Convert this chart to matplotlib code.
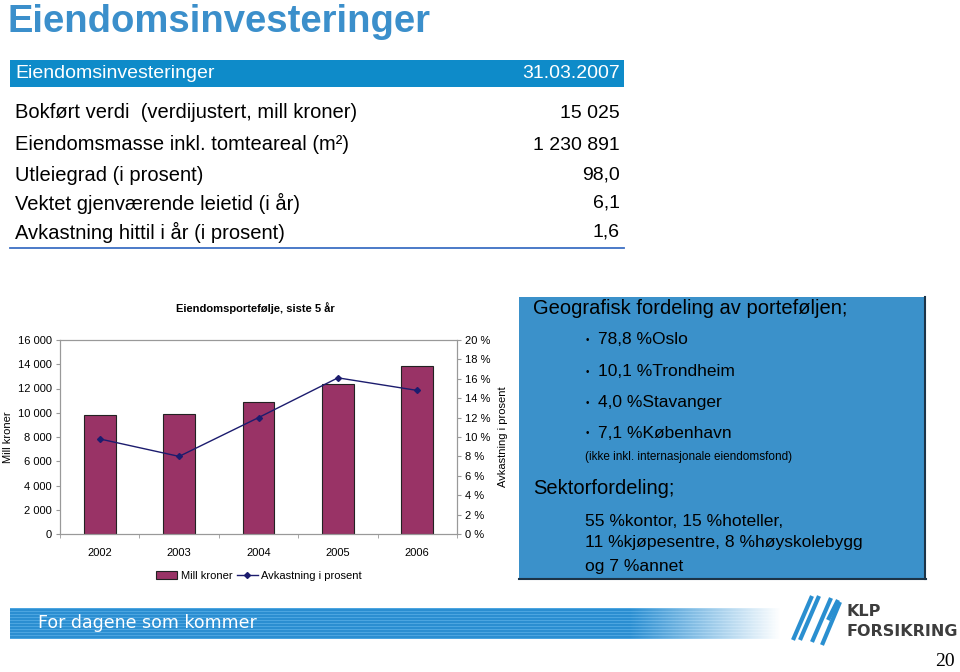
import numpy as np
import matplotlib
matplotlib.use("Agg")
import matplotlib.pyplot as plt
from matplotlib.patches import Rectangle
from matplotlib.lines import Line2D
from matplotlib.ticker import FuncFormatter, FixedLocator

# ---------------- data ----------------
years = ["2002", "2003", "2004", "2005", "2006"]
mill_kroner = [9800, 9900, 10900, 12400, 13850]
avkastning = [0.098, 0.080, 0.120, 0.161, 0.148]

table_header = ["Eiendomsinvesteringer", "31.03.2007"]
table_labels = ["Bokført verdi  (verdijustert, mill kroner)",
                "Eiendomsmasse inkl. tomteareal (m²)",
                "Utleiegrad (i prosent)",
                "Vektet gjenværende leietid (i år)",
                "Avkastning hittil i år (i prosent)"]
table_values = ["15 025", "1 230 891", "98,0", "6,1", "1,6"]

geo_items = ["78,8 %Oslo", "10,1 %Trondheim", "4,0 %Stavanger", "7,1 %København"]
sector_lines = ["55 %kontor, 15 %hoteller,",
                "11 %kjøpesentre, 8 %høyskolebygg",
                "og 7 %annet"]

FONT = "Liberation Sans"
plt.rcParams["font.family"] = [FONT, "DejaVu Sans"]

W, H = 960, 672
fig = plt.figure(figsize=(W / 100, H / 100), dpi=100)
fig.patch.set_facecolor("white")


def fx(x):
    return x / W


def fy(y):
    return 1 - y / H


def rect(x0, y0, x1, y1, **kw):
    r = Rectangle((fx(x0), fy(y1)), (x1 - x0) / W, (y1 - y0) / H,
                  transform=fig.transFigure, **kw)
    fig.patches.append(r)
    return r


def hline(x0, x1, y, **kw):
    fig.lines.append(Line2D([fx(x0), fx(x1)], [fy(y), fy(y)],
                            transform=fig.transFigure, **kw))


# ---------------- slide title ----------------
fig.text(fx(7), fy(32), "Eiendomsinvesteringer", fontsize=27.5, weight="bold",
         color="#3b8fcb", va="baseline", ha="left")

# ---------------- table ----------------
rect(10, 60, 624, 87, facecolor="#0e8bc9", edgecolor="none")
fig.text(fx(15), fy(74), table_header[0], fontsize=14, color="white",
         va="center", ha="left")
fig.text(fx(620), fy(74), table_header[1], fontsize=14, color="white",
         va="center", ha="right")
row_y = [113, 145, 175, 203, 232]
for lab, val, y in zip(table_labels, table_values, row_y):
    fig.text(fx(15), fy(y), lab, fontsize=14.5, color="black", va="center", ha="left")
    fig.text(fx(620), fy(y), val, fontsize=14, color="black", va="center", ha="right")
hline(10, 624, 248, color="#3d6fc4", lw=1.3)

# ---------------- chart ----------------
ax = fig.add_axes([fx(60), fy(534), (457 - 60) / W, (534 - 340) / H])
x = np.arange(len(years))
bars = ax.bar(x, mill_kroner, width=0.4, color="#993366", edgecolor="#222222",
              linewidth=0.8, zorder=2, label="Mill kroner")
ax.set_xlim(-0.5, len(years) - 0.5)
ax.set_ylim(0, 16000)
ax.set_yticks(np.arange(0, 16001, 2000))
ax.yaxis.set_major_formatter(FuncFormatter(lambda v, p: f"{int(v):,}".replace(",", " ")))
ax.set_xticks(x)
ax.set_xticklabels(years)
ax.xaxis.set_minor_locator(FixedLocator(np.arange(-0.5, len(years), 1.0)))
ax.tick_params(axis="x", which="major", length=0, pad=10, labelsize=8)
ax.tick_params(axis="x", which="minor", length=3, color="#999999", direction="out")
ax.tick_params(axis="y", length=3, color="#999999", labelsize=8, pad=3)
for s in ax.spines.values():
    s.set_color("#999999")
    s.set_linewidth(0.8)

ax2 = ax.twinx()
line, = ax2.plot(x, avkastning, color="#1c1c6e", lw=1.0, marker="D",
                 markersize=3, zorder=3, label="Avkastning i prosent")
ax2.set_ylim(0, 0.20)
ax2.set_yticks(np.arange(0, 0.2001, 0.02))
ax2.yaxis.set_major_formatter(FuncFormatter(lambda v, p: f"{int(round(v * 100))} %"))
ax2.tick_params(axis="y", length=3, color="#999999", labelsize=8, pad=3)
for s in ax2.spines.values():
    s.set_color("#999999")
    s.set_linewidth(0.8)

fig.text(fx(255), fy(308), "Eiendomsportefølje, siste 5 år", fontsize=8,
         weight="bold", ha="center", va="center")
fig.text(fx(8), fy(437), "Mill kroner", fontsize=8, rotation=90,
         ha="center", va="center")
fig.text(fx(503), fy(437), "Avkastning i prosent", fontsize=8, rotation=90,
         ha="center", va="center")

fig.legend([bars, line], ["Mill kroner", "Avkastning i prosent"],
           loc="center", bbox_to_anchor=(fx(259), fy(576)), ncol=2,
           frameon=False, fontsize=8, handlelength=1.9, handletextpad=0.3,
           columnspacing=0.4)

# ---------------- blue panel ----------------
rect(519, 297, 925, 579, facecolor="#3b91ca", edgecolor="none")
fig.lines.append(Line2D([fx(925), fx(925)], [fy(297), fy(579)],
                        transform=fig.transFigure, color="#1d3447", lw=1.5))
hline(519, 926, 579, color="#1d3447", lw=1.5)

fig.text(fx(533), fy(309), "Geografisk fordeling av porteføljen;", fontsize=14.5,
         color="black", va="center", ha="left")
geo_y = [340, 372, 403, 433]
for item, y in zip(geo_items, geo_y):
    fig.text(fx(586), fy(y), "•", fontsize=7, va="center", ha="left")
    fig.text(fx(598), fy(y), item, fontsize=12.5, va="center", ha="left")
fig.text(fx(585), fy(457), "(ikke inkl. internasjonale eiendomsfond)",
         fontsize=8.5, va="center", ha="left")
fig.text(fx(533), fy(489), "Sektorfordeling;", fontsize=14.5, va="center", ha="left")
for ln, y in zip(sector_lines, [521, 543, 566]):
    fig.text(fx(585), fy(y), ln, fontsize=12.6, va="center", ha="left")

# ---------------- footer banner ----------------
bx = fig.add_axes([fx(10), fy(639), (790 - 10) / W, (639 - 608) / H])
bx.set_axis_off()
nrow, ncol = 31, 780
img = np.zeros((nrow, ncol, 4))
base = np.array([0.17, 0.56, 0.82])
light = np.array([0.30, 0.65, 0.88])
for r in range(nrow):
    img[r, :, :3] = light if r % 3 == 0 else base
cols = np.arange(ncol)
alpha = np.clip((770 - cols) / 150.0, 0, 1)
img[:, :, 3] = alpha[None, :]
bx.imshow(img, aspect="auto", interpolation="nearest")
fig.text(fx(38), fy(623), "For dagene som kommer", fontsize=12.5,
         family="DejaVu Sans", color="white", va="center", ha="left")

# logo strokes
logo_col = "#2a8fd0"
for (x0, y0, x1, y1) in [(793, 640, 812, 596), (800, 640, 819, 596),
                         (812, 642, 831, 598), (822, 645, 840, 602),
                         (828, 620, 838, 600)]:
    fig.lines.append(Line2D([fx(x0), fx(x1)], [fy(y0), fy(y1)],
                            transform=fig.transFigure, color=logo_col, lw=3,
                            solid_capstyle="butt"))
fig.text(fx(846), fy(612), "KLP", fontsize=11.5, weight="bold",
         family="DejaVu Sans", color="#3d3d3d", va="center", ha="left")
fig.text(fx(846), fy(632), "FORSIKRING", fontsize=11.5, weight="bold",
         family="DejaVu Sans", color="#3d3d3d", va="center", ha="left")
fig.text(fx(945), fy(662), "20", fontsize=14, family="Liberation Serif",
         color="black", va="center", ha="center")

fig.savefig("out.png", dpi=100)
